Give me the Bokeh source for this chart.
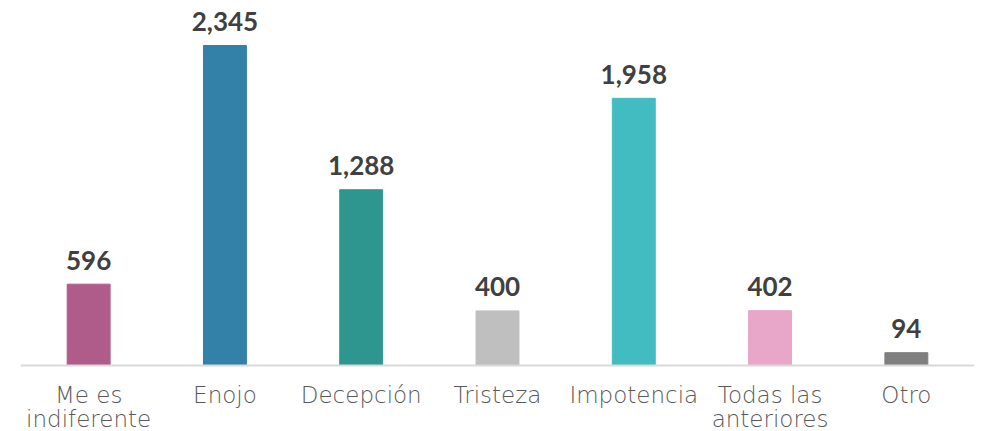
from bokeh.plotting import figure
from bokeh.models import ColumnDataSource, Span, Range1d, FactorRange
from bokeh.core.properties import value
from bokeh.embed import file_html
from bokeh.resources import INLINE

categories = ["Me es indiferente", "Enojo", "Decepción", "Tristeza", "Impotencia", "Todas las anteriores", "Otro"]
line1 = ["Me es", "Enojo", "Decepción", "Tristeza", "Impotencia", "Todas las", "Otro"]
line2 = ["indiferente", "", "", "", "", "anteriores", ""]
values = [596, 2345, 1288, 400, 1958, 402, 94]
labels = ["596", "2,345", "1,288", "400", "1,958", "402", "94"]
colors = ["#AF5C8B", "#3380A9", "#2E968F", "#BFBFBF", "#43BCC1", "#E8A7C9", "#7F7F7F"]

src = ColumnDataSource(dict(cat=categories, val=values, lab=labels, col=colors,
                            l1=line1, l2=line2, zero=[0] * len(values)))

scale = 320 / 2345.0
p = figure(x_range=FactorRange(*categories, range_padding=0),
           y_range=Range1d(-66 / scale, 365 / scale),
           width=981, height=431, output_backend="svg", toolbar_location=None,
           min_border_left=20, min_border_right=7, min_border_top=0, min_border_bottom=0)
p.outline_line_color = None
p.axis.visible = False
p.xgrid.grid_line_color = None
p.ygrid.grid_line_color = None
p.background_fill_color = "white"

p.vbar(x="cat", top="val", bottom=0, width=0.315, color="col", source=src)
p.add_layout(Span(location=0, dimension="width", line_color="#D9D9D9", line_width=2))

p.text(x="cat", y="val", text="lab", source=src, text_align="center",
       text_baseline="alphabetic", y_offset=-24, text_font=value("Lato"),
       text_font_style="bold", text_font_size="26px", text_color="#404040")
lab_font = value("DejaVu Sans Light, DejaVu Sans")
p.text(x="cat", y="zero", text="l1", source=src, text_align="center",
       text_baseline="alphabetic", y_offset=29, text_font=lab_font,
       text_font_size="23px", text_color="#595959")
p.text(x="cat", y="zero", text="l2", source=src, text_align="center",
       text_baseline="alphabetic", y_offset=53, text_font=lab_font,
       text_font_size="23px", text_color="#595959")

open("out.html", "w").write(file_html(p, INLINE))
